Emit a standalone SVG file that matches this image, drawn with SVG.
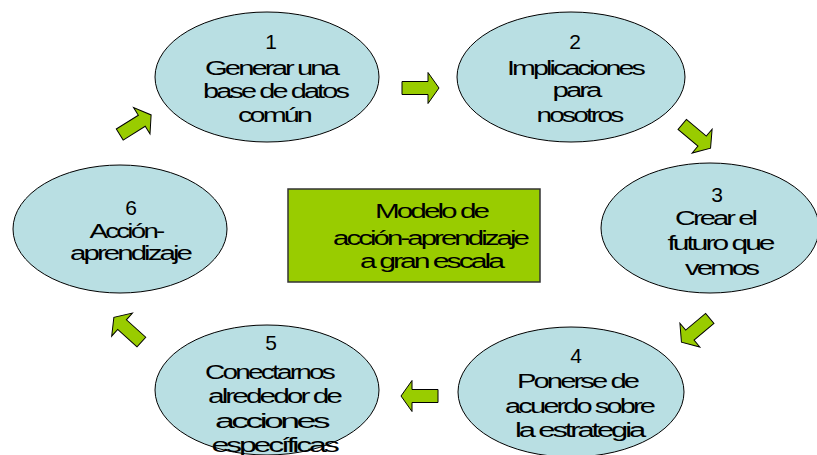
<svg xmlns="http://www.w3.org/2000/svg" width="817" height="455" viewBox="0 0 817 455">
<style>
.node ellipse{fill:#b9dfe3;stroke:#000;stroke-width:1}
.box{fill:#99cc00;stroke:#333;stroke-width:1.5}
.arrow{fill:#99cc00;stroke:#000;stroke-width:1;stroke-linejoin:miter}
text{font-family:"Liberation Sans",Arial,sans-serif;font-size:20px;fill:#000;text-anchor:middle;letter-spacing:-2px}
.num{font-size:21px;letter-spacing:0}
</style>
<defs>
<path id="arr" d="M-18,-6.5 H8 V-15.5 L19,0 L8,15.5 V6.5 H-18 Z"/>
</defs>
<rect width="817" height="455" fill="#fff"/>
<g id="connectors">
<use href="#arr" class="arrow" transform="translate(420,88)"/>
<use href="#arr" class="arrow" transform="translate(696,136) rotate(40)"/>
<use href="#arr" class="arrow" transform="translate(696,330) rotate(140)"/>
<use href="#arr" class="arrow" transform="translate(420,396) rotate(180)"/>
<use href="#arr" class="arrow" transform="translate(128,330) rotate(222)"/>
<use href="#arr" class="arrow" transform="translate(135,125) rotate(-32)"/>
</g>
<g id="node1" class="node">
<ellipse cx="267" cy="77" rx="112" ry="65"/>
<text class="num" x="271" y="49">1</text>
<text x="271" y="75" textLength="132" lengthAdjust="spacingAndGlyphs">Generar una</text>
<text x="275" y="98" textLength="144" lengthAdjust="spacingAndGlyphs">base de datos</text>
<text x="274" y="122" textLength="72" lengthAdjust="spacingAndGlyphs">común</text>
</g>
<g id="node2" class="node">
<ellipse cx="571" cy="77" rx="114" ry="65"/>
<text class="num" x="575" y="49">2</text>
<text x="575" y="75" textLength="136" lengthAdjust="spacingAndGlyphs">Implicaciones</text>
<text x="576" y="97" textLength="47" lengthAdjust="spacingAndGlyphs">para</text>
<text x="579" y="122" textLength="85" lengthAdjust="spacingAndGlyphs">nosotros</text>
</g>
<g id="node3" class="node">
<ellipse cx="710" cy="228" rx="109" ry="65"/>
<text class="num" x="717" y="202">3</text>
<text x="715" y="225" textLength="80" lengthAdjust="spacingAndGlyphs">Crear el</text>
<text x="720" y="250" textLength="105" lengthAdjust="spacingAndGlyphs">futuro que</text>
<text x="721" y="275" textLength="72" lengthAdjust="spacingAndGlyphs">vemos</text>
</g>
<g id="node4" class="node">
<ellipse cx="571" cy="392" rx="113" ry="65"/>
<text class="num" x="576" y="363">4</text>
<text x="577" y="388" textLength="120" lengthAdjust="spacingAndGlyphs">Ponerse de</text>
<text x="579" y="413" textLength="148" lengthAdjust="spacingAndGlyphs">acuerdo sobre</text>
<text x="579" y="437" textLength="128" lengthAdjust="spacingAndGlyphs">la estrategia</text>
</g>
<g id="node5" class="node">
<ellipse cx="267" cy="390" rx="112" ry="65"/>
<text class="num" x="271" y="350">5</text>
<text x="269" y="379" textLength="128" lengthAdjust="spacingAndGlyphs">Conectarnos</text>
<text x="274" y="403" textLength="132" lengthAdjust="spacingAndGlyphs">alrededor de</text>
<text x="271" y="428" textLength="112" lengthAdjust="spacingAndGlyphs">acciones</text>
<text x="274" y="452" textLength="125" lengthAdjust="spacingAndGlyphs">específicas</text>
</g>
<g id="node6" class="node">
<ellipse cx="120" cy="229" rx="107" ry="64"/>
<text class="num" x="131" y="215">6</text>
<text x="126" y="238" textLength="73" lengthAdjust="spacingAndGlyphs">Acción-</text>
<text x="130" y="260" textLength="120" lengthAdjust="spacingAndGlyphs">aprendizaje</text>
</g>
<g id="center">
<rect class="box" x="288" y="189" width="252" height="93"/>
<text x="431" y="218" textLength="112" lengthAdjust="spacingAndGlyphs">Modelo de</text>
<text x="430" y="245" textLength="194" lengthAdjust="spacingAndGlyphs">acción-aprendizaje</text>
<text x="431" y="268" textLength="142" lengthAdjust="spacingAndGlyphs">a gran escala</text>
</g>
</svg>
